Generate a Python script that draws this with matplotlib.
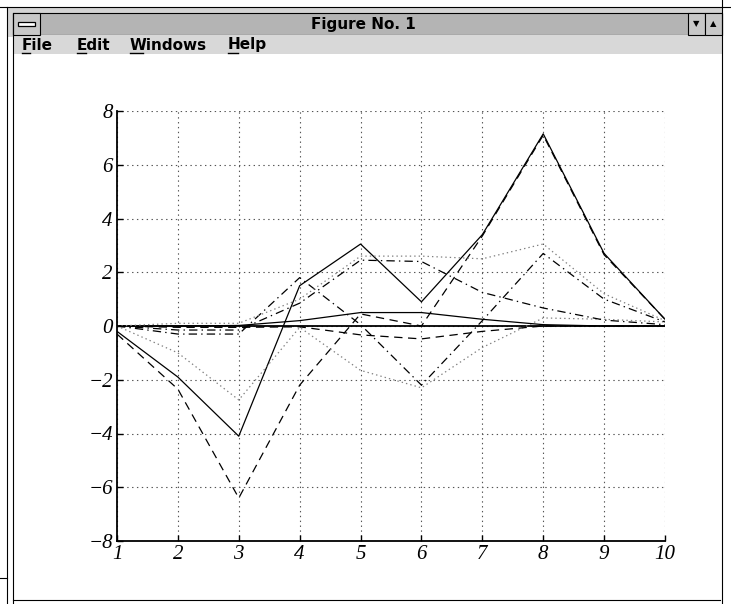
import matplotlib
matplotlib.use("Agg")
import matplotlib.pyplot as plt
from matplotlib.patches import Rectangle
from matplotlib.lines import Line2D

# ---------------- data ----------------
x = [1, 2, 3, 4, 5, 6, 7, 8, 9, 10]
solid_big = [-0.2, -1.9, -4.1, 1.5, 3.05, 0.9, 3.4, 7.15, 2.7, 0.25]
dashed_big = [-0.3, -2.35, -6.4, -2.2, 0.45, 0.0, 3.35, 7.1, 2.65, 0.25]
dotted_a = [0.0, -1.0, -2.75, -0.05, -1.65, -2.3, -0.8, 0.3, 0.25, 0.15]
dashdot_a = [0.0, -0.3, -0.3, 1.8, 0.05, -2.2, 0.2, 2.7, 1.0, 0.15]
solid_small = [0.0, 0.0, 0.02, 0.2, 0.5, 0.5, 0.25, 0.05, 0.0, 0.0]
dashed_small = [0.0, -0.05, -0.05, -0.03, -0.33, -0.48, -0.2, 0.0, 0.0, 0.0]
dotted_b = [0.0, 0.1, 0.1, 1.0, 2.6, 2.6, 2.5, 3.05, 1.2, 0.2]
dashdot_b = [0.0, -0.15, -0.15, 0.85, 2.45, 2.4, 1.25, 0.67, 0.22, 0.05]
zero_line = [0.0] * 10

xticks = [1, 2, 3, 4, 5, 6, 7, 8, 9, 10]
yticks = [-8, -6, -4, -2, 0, 2, 4, 6, 8]
window_title = "Figure No. 1"
menu_items = ["File", "Edit", "Windows", "Help"]

# ---------------- figure ----------------
W, H = 731, 604
plt.rcParams['lines.scale_dashes'] = False
fig = plt.figure(figsize=(W / 100, H / 100), dpi=100)
fig.patch.set_facecolor('white')


def fx(px):
    return px / W


def fy(py):
    return 1 - py / H


def rect(x0, y0, x1, y1, fc, ec='black', lw=0.8, z=1):
    r = Rectangle((fx(x0), fy(y1)), fx(x1) - fx(x0), fy(y0) - fy(y1),
                  transform=fig.transFigure, facecolor=fc, edgecolor=ec,
                  linewidth=lw, zorder=z)
    fig.add_artist(r)


def hline(x0, x1, y, color='black', lw=0.8):
    fig.add_artist(Line2D([fx(x0), fx(x1)], [fy(y), fy(y)], transform=fig.transFigure,
                          color=color, linewidth=lw, zorder=3))


def vline(x0, y0, y1, color='black', lw=0.8):
    fig.add_artist(Line2D([fx(x0), fx(x0)], [fy(y0), fy(y1)], transform=fig.transFigure,
                          color=color, linewidth=lw, zorder=3))


# window chrome
rect(7, 7, 722, 37, '#d4d4d4', ec='none')          # frame band
rect(13, 13, 722, 35, '#b4b4b4', ec='black')      # title bar
rect(13, 13, 40, 35, '#c8c8c8', ec='black', z=2)  # system box
rect(18, 22, 35, 26, 'white', ec='black', lw=0.9, z=3)
rect(688, 13, 705, 35, '#c8c8c8', ec='black', z=2)
rect(705, 13, 722, 35, '#c8c8c8', ec='black', z=2)
fig.text(fx(696.5), fy(24), '\u25bc', ha='center', va='center', fontsize=6,
         family=['DejaVu Sans'])
fig.text(fx(713.5), fy(24), '\u25b2', ha='center', va='center', fontsize=6,
         family=['DejaVu Sans'])
rect(13, 35, 722, 54, '#d8d8d8', ec='none')        # menu bar
hline(0, 731, 7)
vline(7, 7, 604)
vline(13, 13, 604)
vline(722, 0, 604)
hline(0, 7, 578)
hline(13, 720, 600)

narrow = ['Liberation Sans Narrow', 'DejaVu Sans']
fig.text(fx(363), fy(24), window_title, ha='center', va='center', fontsize=11,
         family=narrow, fontweight='bold', zorder=5)
menu_x = [22, 77, 130, 228]
for label, mx in zip(menu_items, menu_x):
    t = fig.text(fx(mx), fy(45), label, ha='left', va='center', fontsize=11,
                 family=narrow, fontweight='bold', zorder=5)
first_w = [8, 9, 13, 10]
for mx, w in zip(menu_x, first_w):
    hline(mx, mx + w, 53, lw=1.0)

# ---------------- axes ----------------
ax_l, ax_r, ax_t, ax_b = 117, 665, 111, 541
ax = fig.add_axes([fx(ax_l), fy(ax_b), fx(ax_r) - fx(ax_l), fy(ax_t) - fy(ax_b)])
ax.set_facecolor('white')

lw = 0.9
ax.plot(x, zero_line, color='black', linewidth=1.3, linestyle='-')
ax.plot(x, solid_big, color='black', linewidth=lw, linestyle='-')
ax.plot(x, dashed_big, color='black', linewidth=lw, linestyle=(0, (6, 4)))
ax.plot(x, dotted_a, color='#808080', linewidth=lw, linestyle=(0, (1, 2.2)))
ax.plot(x, dashdot_a, color='black', linewidth=lw, linestyle=(0, (6, 3, 1, 3)))
ax.plot(x, solid_small, color='black', linewidth=lw, linestyle='-')
ax.plot(x, dashed_small, color='black', linewidth=lw, linestyle=(0, (6, 4)))
ax.plot(x, dotted_b, color='#808080', linewidth=lw, linestyle=(0, (1, 2.2)))
ax.plot(x, dashdot_b, color='black', linewidth=lw, linestyle=(0, (6, 3, 1, 3)))

ax.set_xlim(1, 10)
ax.set_ylim(-8, 8)
ax.set_xticks(xticks)
ax.set_yticks(yticks)
ax.set_xticklabels([str(v) for v in xticks])
ax.set_yticklabels([str(v).replace('-', '\u2212') for v in yticks])
ax.grid(True, color='#555555', linestyle=(0, (1, 2.5)), linewidth=0.8)
for s in ['top', 'right']:
    ax.spines[s].set_visible(False)
for s in ['left', 'bottom']:
    ax.spines[s].set_linewidth(1.3)
    ax.spines[s].set_color('black')
ax.tick_params(direction='in', length=4, width=1, pad=3)
for lab in ax.get_xticklabels() + ax.get_yticklabels():
    lab.set_fontfamily(['Liberation Serif', 'DejaVu Serif'])
    lab.set_fontstyle('italic')
    lab.set_fontsize(15)

fig.savefig('out.png', dpi=100, facecolor='white')
